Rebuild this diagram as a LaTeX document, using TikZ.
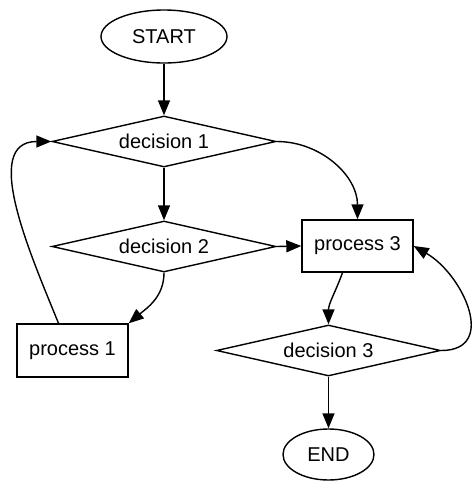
\documentclass[tikz,border=0pt]{standalone}
\usepackage{fontspec}
\setmainfont{Liberation Sans}
\usetikzlibrary{shapes.geometric,arrows.meta}
\begin{document}
\begin{tikzpicture}[x=1pt,y=1pt,
 box/.style={draw, font=\fontsize{20}{22}\selectfont, inner sep=0pt, line width=1.4pt},
 term/.style={box, ellipse},
 dec/.style={box, diamond, minimum width=224pt, minimum height=51pt, shape aspect=4.39},
 proc/.style={box, rectangle, minimum width=111pt, minimum height=52pt},
 arr/.style={line width=1.4pt, -{Triangle[length=15pt,width=12pt]}}]
\useasboundingbox (0,0) rectangle (474,-488);
\node[term, minimum width=126pt, minimum height=53pt] (start) at (164,-36.5) {START};
\node[dec] (d1) at (164,-141.5) {decision 1};
\node[dec] (d2) at (164,-246.5) {decision 2};
\node[proc] (p3) at (357.5,-246) {process 3};
\node[proc, minimum height=53pt] (p1) at (72.5,-350.5) {process 1};
\node[dec] (d3) at (328.5,-350.5) {decision 3};
\node[term, minimum width=91pt, minimum height=51pt] (end) at (328.5,-454.5) {END};
\draw[arr] (start) -- (d1);
\draw[arr] (d1) -- (d2);
\draw[arr] (d1.east) to[out=0,in=90] (p3.north);
\draw[arr] (d2.east) -- (p3.west);
\draw[arr] (d2.south) to[out=-90,in=40] (p1.north east);
\draw[arr] ([xshift=-14pt]p1.north) to[out=112,in=180] (d1.west);
\draw[arr] ([xshift=-15pt]p3.south) to[out=-110,in=90] (d3.north);
\draw[arr] (d3.east) to[out=0,in=-30,looseness=1.35] (p3.east);
\draw[arr] (d3) -- (end);
\end{tikzpicture}
\end{document}
